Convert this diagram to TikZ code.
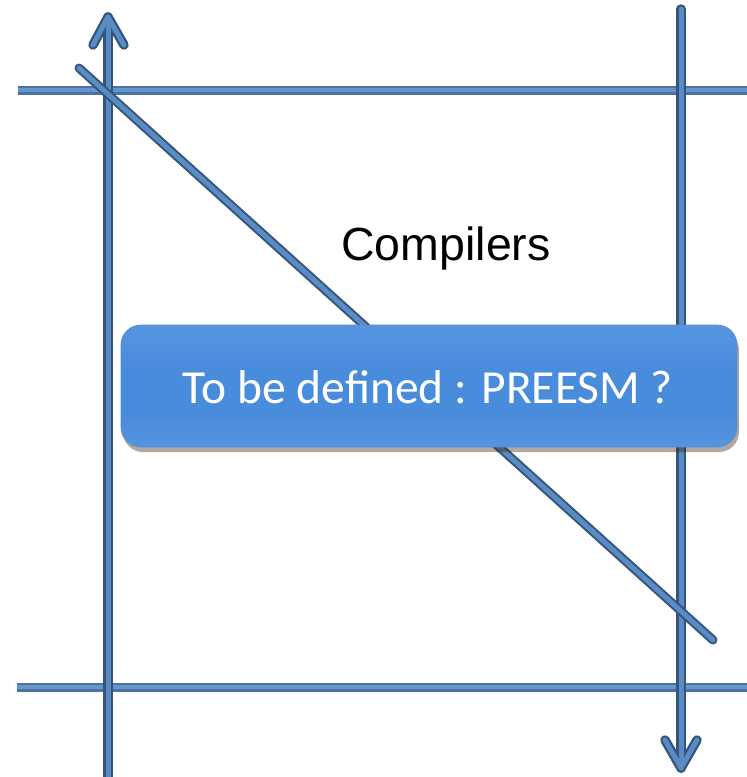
\documentclass[tikz,border=0pt]{standalone}
\usepackage{fontspec}
\newfontfamily\carlitofont{Carlito}
\newfontfamily\arialfont{Liberation Sans}
\usetikzlibrary{shadows}
\definecolor{lndark}{HTML}{34557C}
\definecolor{lnlight}{HTML}{5A8BC3}
\definecolor{hzdark}{HTML}{4A72A2}
\definecolor{hzlight}{HTML}{6696CC}
\definecolor{bxtop}{HTML}{82B4EE}
\definecolor{bxmid}{HTML}{4A8CDC}
\definecolor{bxbot}{HTML}{6AA2E4}
\definecolor{bxedge}{HTML}{5A8DCC}
\pgfdeclareverticalshading{boxshade}{100bp}{color(0bp)=(bxbot); color(38bp)=(bxmid); color(58bp)=(bxmid); color(74bp)=(bxmid!80!bxtop); color(100bp)=(bxtop)}
\tikzset{
  barout/.style={draw=lndark, line width=9.5pt, line cap=round, line join=round},
  barin/.style={draw=lnlight, line width=5pt, line cap=round, line join=round},
  hbarout/.style={draw=hzdark, line width=9pt},
  hbarin/.style={draw=hzlight, line width=4.5pt},
  bluebox/.style={rounded corners=20pt, shading=boxshade, draw=bxedge, line width=0.8pt,
    minimum width=616pt, minimum height=122pt, inner sep=0pt,
    drop shadow={shadow xshift=2pt, shadow yshift=-5pt, opacity=0.4, fill=black!70!brown}},
  boxtext/.style={text=white, font=\carlitofont\fontsize{47.5}{47.5}\selectfont},
  plaintext/.style={text=black, font=\arialfont\fontsize{46.5}{46.5}\selectfont, inner sep=0pt}
}
\begin{document}
\begin{tikzpicture}[x=1pt,y=-1pt]
\useasboundingbox (0,0) rectangle (747,777);
% coordinates
\coordinate (TL) at (18,90);
\coordinate (TR) at (747,90);
\coordinate (BL) at (17,687);
\coordinate (BR) at (747,687);
\coordinate (LB) at (108,777);
\coordinate (LT) at (108,17);
\coordinate (LW1) at (93,45);
\coordinate (LW2) at (124,45);
\coordinate (RT) at (681,9);
\coordinate (RB) at (681,768);
\coordinate (RW1) at (665,740);
\coordinate (RW2) at (697,740);
\coordinate (D1) at (79,68);
\coordinate (D2) at (713,640);
% horizontal bars
\draw[hbarout] (TL) -- (TR);
\draw[hbarin] (TL) -- (TR);
\draw[hbarout] (BL) -- (BR);
\draw[hbarin] (BL) -- (BR);
% vertical arrows
\draw[barout] (LB) -- (LT);
\draw[barout] (LW1) -- (LT) -- (LW2);
\draw[barin] (LB) -- (LT);
\draw[barin] (LW1) -- (LT) -- (LW2);
\draw[barout] (RT) -- (RB);
\draw[barout] (RW1) -- (RB) -- (RW2);
\draw[barin] (RT) -- (RB);
\draw[barin] (RW1) -- (RB) -- (RW2);
% diagonal
\draw[barout, line width=9pt] (D1) -- (D2);
\draw[draw=lnlight, line width=5pt, line cap=round] (D1) -- (D2);
% labels
\node[plaintext, anchor=base] (comp) at (446,260) {Compilers};
\node[bluebox] (box) at (429,386) {};
\node[boxtext, anchor=base] (boxlbl) at (428,403) {To be defined : PREESM ?};
\end{tikzpicture}
\end{document}
